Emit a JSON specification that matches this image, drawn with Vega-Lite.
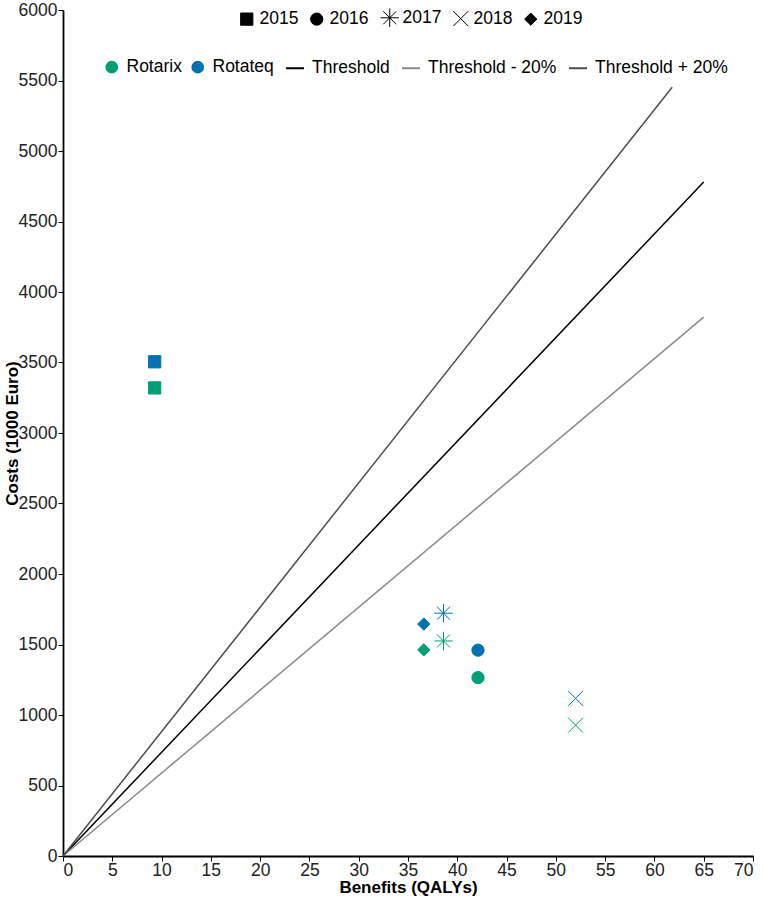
{
  "$schema": "https://vega.github.io/schema/vega-lite/v6.json",
  "width": 690,
  "height": 846,
  "autosize": "none",
  "padding": {"left": 63, "top": 10, "right": 11, "bottom": 42},
  "background": "white",
  "config": {
    "view": {"stroke": null},
    "font": "Liberation Sans",
    "axis": {
      "grid": false,
      "domainColor": "black",
      "domainWidth": 1.8,
      "tickColor": "black",
      "tickSize": 5,
      "labelFont": "Liberation Sans",
      "labelFontSize": 17.5,
      "labelColor": "#222",
      "titleFont": "Liberation Sans",
      "titleFontSize": 17,
      "titleFontWeight": "bold",
      "titleColor": "black"
    }
  },
  "datasets": {
    "pts": [
      {"series": "Rotarix", "year": "2015", "qaly": 9.3, "cost": 3320},
      {"series": "Rotateq", "year": "2015", "qaly": 9.3, "cost": 3505},
      {"series": "Rotarix", "year": "2016", "qaly": 42.1, "cost": 1265},
      {"series": "Rotateq", "year": "2016", "qaly": 42.1, "cost": 1460},
      {"series": "Rotarix", "year": "2017", "qaly": 38.6, "cost": 1525},
      {"series": "Rotateq", "year": "2017", "qaly": 38.6, "cost": 1722},
      {"series": "Rotarix", "year": "2018", "qaly": 52.0, "cost": 928},
      {"series": "Rotateq", "year": "2018", "qaly": 52.0, "cost": 1118},
      {"series": "Rotarix", "year": "2019", "qaly": 36.6, "cost": 1462},
      {"series": "Rotateq", "year": "2019", "qaly": 36.6, "cost": 1645}
    ],
    "thresholds": [
      {"line": "Threshold", "qaly": 0, "cost": 0},
      {"line": "Threshold", "qaly": 65, "cost": 4780},
      {"line": "Threshold - 20%", "qaly": 0, "cost": 0},
      {"line": "Threshold - 20%", "qaly": 65, "cost": 3822},
      {"line": "Threshold + 20%", "qaly": 0, "cost": 0},
      {"line": "Threshold + 20%", "qaly": 61.8, "cost": 5452}
    ]
  },
  "resolve": {"scale": {"stroke": "independent"}},
  "layer": [
    {
      "data": {"name": "thresholds"},
      "mark": {"type": "line", "strokeWidth": 1.5},
      "encoding": {
        "x": {
          "field": "qaly", "type": "quantitative",
          "scale": {"domain": [0, 70], "nice": false, "zero": true},
          "axis": {"values": [0,5,10,15,20,25,30,35,40,45,50,55,60,65,70], "title": "Benefits (QALYs)", "titlePadding": 1, "labelPadding": 0}
        },
        "y": {
          "field": "cost", "type": "quantitative",
          "scale": {"domain": [0, 6000], "nice": false},
          "axis": {"values": [0,500,1000,1500,2000,2500,3000,3500,4000,4500,5000,5500,6000], "format": "d", "title": "Costs (1000 Euro)", "titlePadding": -3, "labelPadding": 1}
        },
        "stroke": {
          "field": "line", "type": "nominal",
          "scale": {
            "domain": ["Threshold", "Threshold - 20%", "Threshold + 20%"],
            "range": ["#000000", "#8a8a8a", "#4d4d4d"]
          },
          "legend": {
            "orient": "none",
            "legendX": 222,
            "legendY": 48,
            "direction": "horizontal",
            "columns": 3,
            "title": null,
            "padding": 0,
            "symbolType": "stroke",
            "symbolSize": 324,
            "symbolStrokeWidth": 2,
            "labelOffset": 7,
            "columnPadding": 8,
            "labelFont": "Liberation Sans",
            "labelFontSize": 17.5,
            "labelColor": "black",
            "labelLimit": 300
          }
        }
      }
    },
    {
      "data": {"name": "pts"},
      "mark": {"type": "point", "filled": true, "opacity": 1, "size": 150, "strokeWidth": 1},
      "encoding": {
        "x": {"field": "qaly", "type": "quantitative"},
        "y": {"field": "cost", "type": "quantitative"},
        "stroke": {
          "field": "series", "type": "nominal",
          "scale": {"domain": ["Rotarix", "Rotateq"], "range": ["#009E73", "#0072B2"]},
          "legend": null
        },
        "color": {
          "field": "series", "type": "nominal",
          "scale": {"domain": ["Rotarix", "Rotateq"], "range": ["#009E73", "#0072B2"]},
          "legend": {
            "orient": "none",
            "legendX": 40,
            "legendY": 48,
            "direction": "horizontal",
            "columns": 2,
            "title": null,
            "padding": 0,
            "symbolType": "circle",
            "symbolSize": 160,
            "symbolOpacity": 1,
            "symbolStrokeWidth": 0,
            "labelOffset": 6,
            "columnPadding": 7,
            "labelFont": "Liberation Sans",
            "labelFontSize": 17.5,
            "labelColor": "black"
          }
        },
        "shape": {
          "field": "year", "type": "nominal",
          "scale": {
            "domain": ["2015", "2016", "2017", "2018", "2019"],
            "range": ["square", "circle", "M0,-1.5L0,1.5M-1.5,0L1.5,0M-1.06,-1.06L1.06,1.06M-1.06,1.06L1.06,-1.06", "M-1.22,-1.22L1.22,1.22M-1.22,1.22L1.22,-1.22", "diamond"]
          },
          "legend": {
            "orient": "none",
            "legendX": 175,
            "legendY": -1,
            "direction": "horizontal",
            "columns": 5,
            "title": null,
            "padding": 0,
            "symbolSize": 150,
            "symbolFillColor": "black",
            "symbolStrokeColor": "black",
            "symbolStrokeWidth": 1,
            "symbolOpacity": 1,
            "labelOffset": 4,
            "columnPadding": 9,
            "labelFont": "Liberation Sans",
            "labelFontSize": 17.5,
            "labelColor": "black"
          }
        }
      }
    }
  ]
}
